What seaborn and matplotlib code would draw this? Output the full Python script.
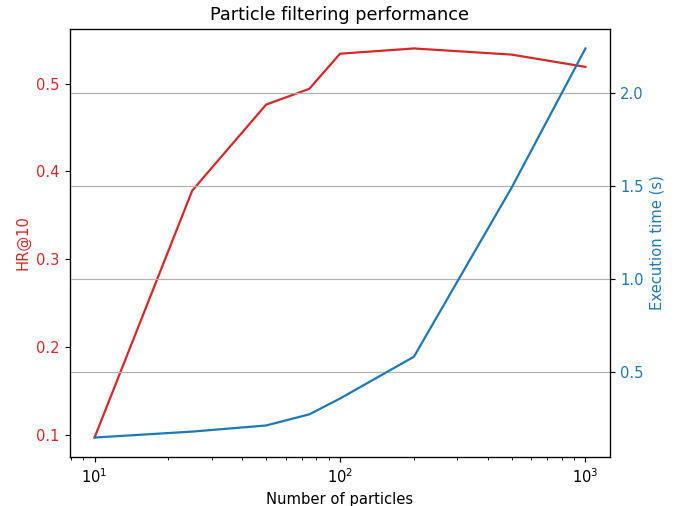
import matplotlib
matplotlib.use("Agg")
import matplotlib.pyplot as plt
import seaborn as sns
import pandas as pd

particles = [10, 25, 50, 75, 100, 200, 500, 1000]
hr_at_10 = [0.0966, 0.378, 0.476, 0.494, 0.534, 0.540, 0.533, 0.519]
exec_time = [0.145, 0.177, 0.21, 0.27, 0.355, 0.58, 1.49, 2.24]

df = pd.DataFrame({"particles": particles, "hr": hr_at_10, "time": exec_time})

plt.rcParams['font.family'] = ['DejaVu Sans']
DPI = 106
fig = plt.figure(figsize=(678 / DPI, 506 / DPI), dpi=DPI)
ax1 = fig.add_axes([70 / 678, 49 / 506, 540 / 678, 428 / 506])
red = '#d62728'
blue = '#1f77b4'

sns.lineplot(data=df, x="particles", y="hr", ax=ax1, color=red)
ax1.set_xscale('log')
ax1.set_xlabel("Number of particles")
ax1.set_ylabel("HR@10", color=red)
ax1.tick_params(axis='y', labelcolor=red)

ax2 = ax1.twinx()
sns.lineplot(data=df, x="particles", y="time", ax=ax2, color=blue)
ax2.set_ylabel("Execution time (s)", color=blue)
ax2.tick_params(axis='y', labelcolor=blue)
ax2.grid(True, axis='y', color='#b0b0b0')
ax2.set_xscale('log')

ax1.set_title("Particle filtering performance", fontsize=12)

fig.savefig("out.png", dpi=DPI)
